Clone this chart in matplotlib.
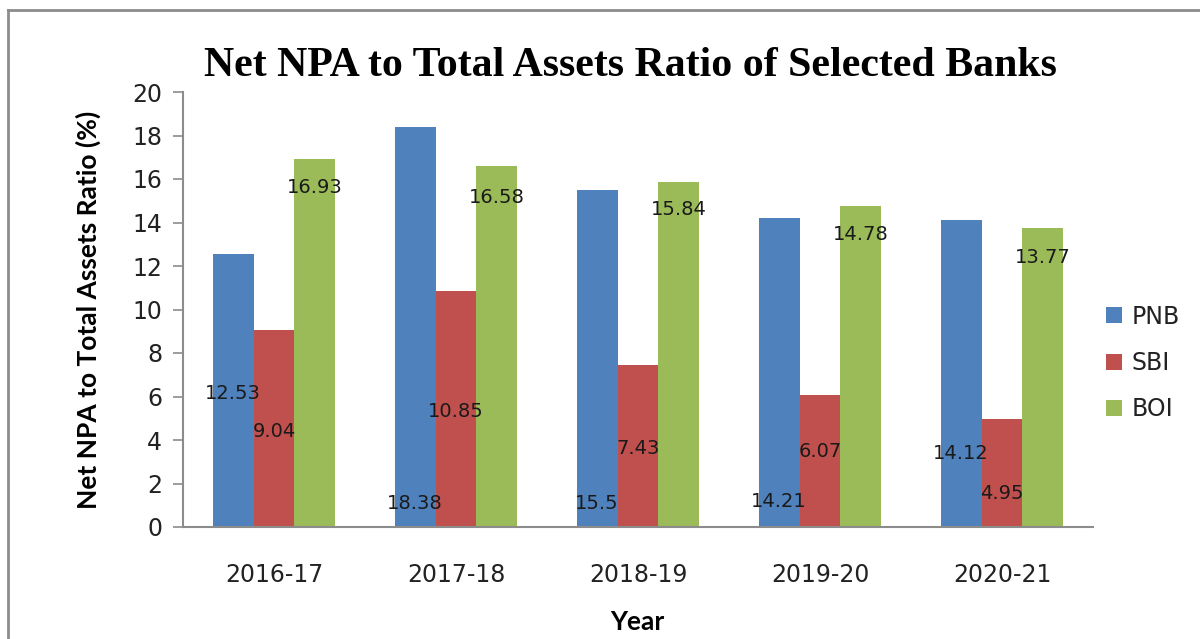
import matplotlib
matplotlib.use("Agg")
import matplotlib.pyplot as plt
import numpy as np
from matplotlib.lines import Line2D

years = ["2016-17", "2017-18", "2018-19", "2019-20", "2020-21"]
pnb = [12.53, 18.38, 15.5, 14.21, 14.12]
sbi = [9.04, 10.85, 7.43, 6.07, 4.95]
boi = [16.93, 16.58, 15.84, 14.78, 13.77]
series_names = ["PNB", "SBI", "BOI"]

# where the (misplaced) data labels sit vertically, in data units
pnb_label_y = [6.16, 1.10, 1.10, 1.15, 3.40]
sbi_label_y = [4.37, 5.29, 3.59, 3.45, 1.56]
boi_label_y = [15.59, 15.17, 14.62, 13.47, 12.41]

colors = ["#4F81BD", "#C0504D", "#9BBB59"]
W, H = 1200, 639
fig = plt.figure(figsize=(W / 100, H / 100), dpi=100)
ax = fig.add_axes([183 / W, 1 - 527 / H, (1093 - 183) / W, (527 - 92) / H])

x = np.arange(len(years))
bw = 0.225
all_vals = [pnb, sbi, boi]
all_ly = [pnb_label_y, sbi_label_y, boi_label_y]
for i, (vals, ly, name, c) in enumerate(zip(all_vals, all_ly, series_names, colors)):
    xs = x + (i - 1) * bw
    ax.bar(xs, vals, width=bw, color=c, label=name, zorder=2)
    for xx, v, yy in zip(xs, vals, ly):
        ax.text(xx, yy, f"{v:g}", ha="center", va="center", fontsize=14,
                color="#1a1a1a", family="DejaVu Sans", zorder=3)

ax.set_xlim(-0.5, len(years) - 0.5)
ax.set_ylim(0, 20)
ax.set_yticks(np.arange(0, 21, 2))
ax.set_xticks(x)
ax.set_xticklabels(years)
ax.tick_params(axis="y", direction="out", length=7, width=1.2, color="#8c8c8c",
               labelsize=17, pad=8, labelcolor="#222222")
ax.tick_params(axis="x", length=0, labelsize=17, pad=26, labelcolor="#222222")
for s in ["top", "right"]:
    ax.spines[s].set_visible(False)
for s in ["left", "bottom"]:
    ax.spines[s].set_color("#8c8c8c")
    ax.spines[s].set_linewidth(1.5)

ax.set_ylabel("Net NPA to Total Assets Ratio (%)", fontsize=19, fontweight="bold",
              family="Lato", va="center")
ax.yaxis.set_label_coords((88 - 183) / 910, 0.5)
ax.set_xlabel("Year", fontsize=19, fontweight="bold", family="Lato", va="center")
ax.xaxis.set_label_coords((637 - 183) / 910, -(622 - 527) / 435)

fig.text(630 / W, 1 - 66 / H, "Net NPA to Total Assets Ratio of Selected Banks",
         ha="center", va="center", fontsize=30.2, fontweight="bold",
         family="Liberation Serif")

fig.legend(loc="center left", bbox_to_anchor=(1097 / W, 1 - 363 / H), frameon=False,
           fontsize=17, handlelength=0.65, handleheight=0.65, handletextpad=0.4,
           labelspacing=0.95, borderaxespad=0, labelcolor="#222222")

fig.add_artist(Line2D([8 / W, 1.0], [1 - 10 / H, 1 - 10 / H], transform=fig.transFigure,
                      color="#8c8c8c", lw=2))
fig.add_artist(Line2D([8 / W, 8 / W], [1 - 10 / H, 0], transform=fig.transFigure,
                      color="#8c8c8c", lw=2))

fig.savefig("out.png", dpi=100)
